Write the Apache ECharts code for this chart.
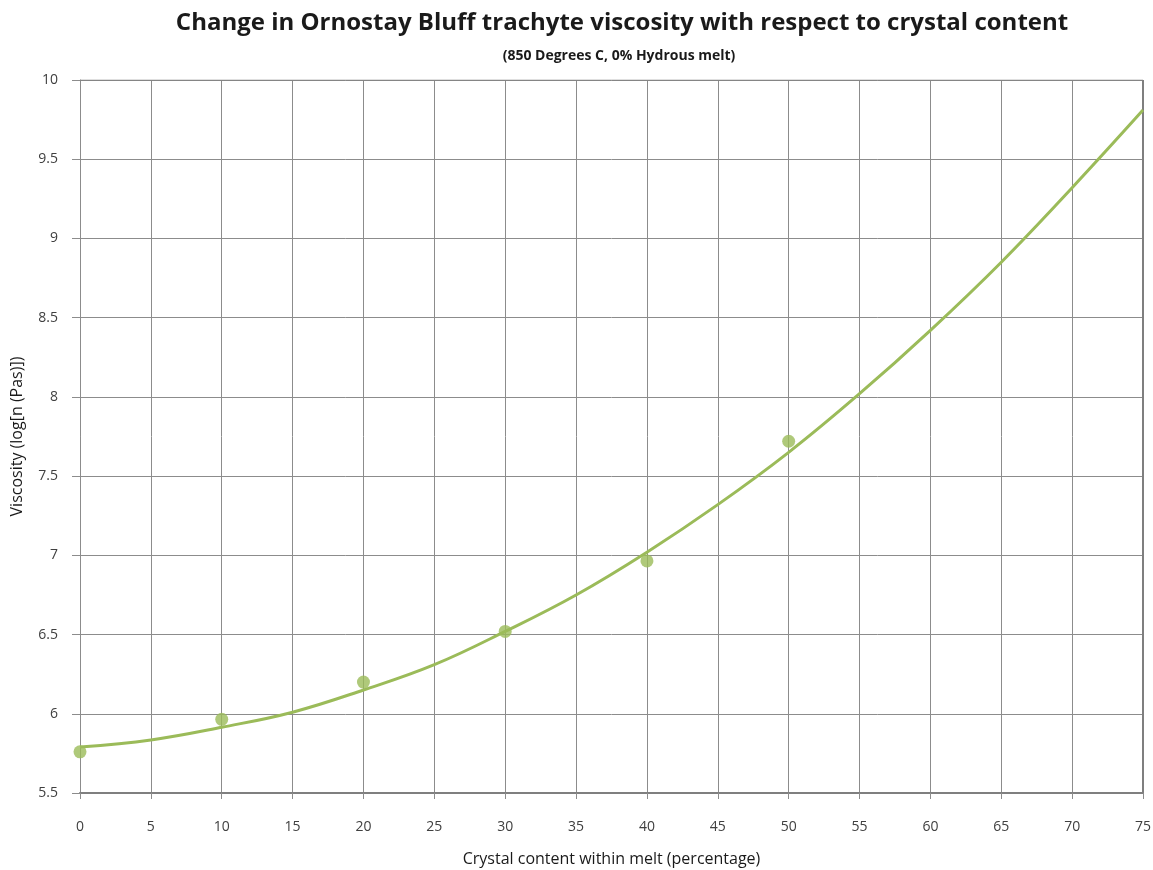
<!DOCTYPE html>
<html>
<head>
<meta charset="utf-8">
<script src="https://cdn.jsdelivr.net/npm/echarts@6/dist/echarts.min.js"></script>
<style>html,body{margin:0;padding:0;background:#fff;}#c{width:1153px;height:870px;}</style>
</head>
<body>
<div id="c"></div>
<script>
var crystalContent = [0, 10, 20, 30, 40, 50];
var viscosity = [5.76, 5.965, 6.2, 6.52, 6.965, 7.72];
var trendX = [0, 5, 10, 15, 20, 25, 30, 35, 40, 45, 50, 55, 60, 65, 70, 75];
var trendY = [5.79, 5.835, 5.915, 6.01, 6.15, 6.31, 6.52, 6.75, 7.02, 7.32, 7.65, 8.02, 8.42, 8.85, 9.32, 9.81];

var chart = echarts.init(document.getElementById('c'), null, {renderer: 'canvas'});
var green = '#9BBB59';
var gridColor = '#8c8c8c';
var font = 'Open Sans';
chart.setOption({
  animation: false,
  backgroundColor: '#fff',
  title: [{
    text: 'Change in Ornostay Bluff trachyte viscosity with respect to crystal content',
    left: 617, top: 6, textAlign: 'center',
    textStyle: {fontFamily: font, fontSize: 24, fontWeight: 'bold', color: '#1a1a1a'}
  }, {
    text: '(850 Degrees C, 0% Hydrous melt)',
    left: 614, top: 44, textAlign: 'center',
    textStyle: {fontFamily: font, fontSize: 14, fontWeight: 'bold', color: '#1a1a1a'}
  }],
  grid: {left: 80, right: 10, top: 80, bottom: 77, containLabel: false, outerBoundsMode: 'none'},
  xAxis: {
    type: 'value', min: 0, max: 75, interval: 5,
    name: 'Crystal content within melt (percentage)',
    nameLocation: 'middle', nameGap: 58,
    nameTextStyle: {fontFamily: font, fontSize: 16, color: '#1a1a1a'},
    axisLine: {show: true, lineStyle: {color: '#7f7f7f', width: 2}},
    axisTick: {show: true, length: 6, lineStyle: {color: gridColor}},
    axisLabel: {fontFamily: font, fontSize: 14, color: '#404040', margin: 27},
    splitLine: {show: true, lineStyle: {color: gridColor, width: 1}}
  },
  yAxis: {
    type: 'value', min: 5.5, max: 10, interval: 0.5,
    name: 'Viscosity (log[n (Pas)])',
    nameLocation: 'middle', nameGap: 55, nameRotate: 90,
    nameTextStyle: {fontFamily: font, fontSize: 16, color: '#1a1a1a'},
    axisLine: {show: true, lineStyle: {color: gridColor, width: 1}},
    axisTick: {show: true, length: 8, lineStyle: {color: gridColor}},
    axisLabel: {fontFamily: font, fontSize: 14, color: '#404040', margin: 22},
    splitLine: {show: true, lineStyle: {color: gridColor, width: 1}}
  },
  series: [{
    type: 'line', name: 'trend',
    data: trendX.map(function (x, i) { return [x, trendY[i]]; }),
    smooth: 0.4, showSymbol: false, symbol: 'none',
    lineStyle: {color: green, width: 3}, z: 3
  }, {
    type: 'scatter', name: 'data',
    data: crystalContent.map(function (x, i) { return [x, viscosity[i]]; }),
    symbol: 'circle', symbolSize: 13,
    itemStyle: {color: green}, z: 4
  }, {
    type: 'line', data: [[75, 5.5], [75, 10]], symbol: 'none', silent: true,
    lineStyle: {color: '#7f7f7f', width: 2}, z: 2
  }, {
    type: 'line', data: [[0, 10], [75, 10]], symbol: 'none', silent: true,
    lineStyle: {color: '#7f7f7f', width: 1}, z: 2
  }]
});
</script>
</body>
</html>
